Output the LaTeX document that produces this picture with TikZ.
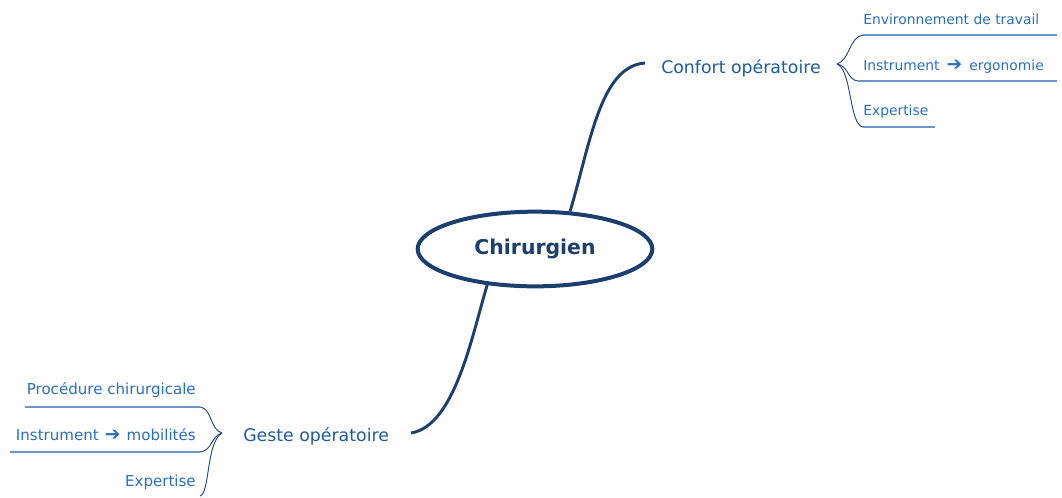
\documentclass[tikz,border=0pt]{standalone}
\usepackage{fontspec}
\setmainfont{DejaVu Sans}
\usetikzlibrary{shapes.geometric}
\definecolor{navy}{HTML}{1B3F6E}
\definecolor{branchblue}{HTML}{1F5A9E}
\definecolor{itemblue}{HTML}{2A6EBF}
\definecolor{lineblue}{HTML}{6A96CC}
\definecolor{bracenavy}{HTML}{24477F}
\newcommand{\bigarr}[1]{\hspace{#1}{\fontsize{14}{14}\selectfont ➔}\hspace{#1}}
\tikzset{
  centre/.style={ellipse, draw=navy, line width=3pt, minimum width=176pt, minimum height=56pt, inner sep=0pt, text=navy, font=\fontsize{15.3}{17}\selectfont\bfseries},
  branch/.style={inner sep=0pt, text=branchblue, font=\fontsize{13}{15}\selectfont},
  itemr/.style={inner sep=0pt, text=itemblue, font=\fontsize{10.4}{12}\selectfont},
  iteml/.style={inner sep=0pt, text=itemblue, font=\fontsize{11.3}{13}\selectfont},
  conn/.style={draw=navy, line width=2.2pt},
  bracel/.style={draw=bracenavy, line width=0.7pt},
  uline/.style={draw=lineblue, line width=0.9pt}
}
\begin{document}
\begin{tikzpicture}[x=0.75pt,y=-0.75pt]
\useasboundingbox (0,0) rectangle (1062,497);
% centre
\node[centre] (c) at (535,249) {\raisebox{-1pt}{Chirurgien}};
% branches
\node[branch, anchor=base west] (conf) at (661,73) {Confort opératoire};
\node[branch, anchor=base west] (geste) at (243,441) {Geste opératoire};
\coordinate (ct) at (645,63);
\coordinate (gt) at (411,433);
\draw[conn] (c.47) .. controls (590,145) and (600,66) .. (ct);
\draw[conn] (c.217) .. controls (472,335) and (455,426) .. (gt);
% right items
\node[itemr, anchor=base west] (r1) at (863,24) {Environnement de travail};
\node[itemr, anchor=base west] (r2) at (863,70) {Instrument \bigarr{2pt} ergonomie};
\node[itemr, anchor=base west] (r3) at (863,115) {Expertise};
\coordinate (rt) at (837,64);
\coordinate (r1a) at (863,35); \coordinate (r1b) at (1057,35);
\coordinate (r2a) at (858,81); \coordinate (r2b) at (1057,81);
\coordinate (r3a) at (863,127); \coordinate (r3b) at (935,127);
\draw[uline] (r1a) -- (r1b);
\draw[uline] (r2a) -- (r2b);
\draw[uline] (r3a) -- (r3b);
\draw[bracel] (rt) .. controls (850,60) and (849,37) .. (r1a);
\draw[bracel] (rt) .. controls (849,66) and (847,80) .. (r2a);
\draw[bracel] (rt) .. controls (852,70) and (849,125) .. (r3a);
% left items
\node[iteml, anchor=base east] (l1) at (196,394) {Procédure chirurgicale};
\node[iteml, anchor=base east] (l2) at (196,440) {Instrument \bigarr{1pt} mobilités};
\node[iteml, anchor=base east] (l3) at (196,486) {Expertise};
\coordinate (lt) at (222,433);
\coordinate (l1a) at (200,407); \coordinate (l1b) at (25,407);
\coordinate (l2a) at (200,452); \coordinate (l2b) at (10,452);
\coordinate (l3a) at (200,496);
\draw[uline] (l1a) -- (l1b);
\draw[uline] (l2a) -- (l2b);
\draw[bracel] (lt) .. controls (210,430) and (212,408) .. (l1a);
\draw[bracel] (lt) .. controls (211,436) and (212,451) .. (l2a);
\draw[bracel] (lt) .. controls (206,442) and (210,494) .. (l3a);
\end{tikzpicture}
\end{document}
